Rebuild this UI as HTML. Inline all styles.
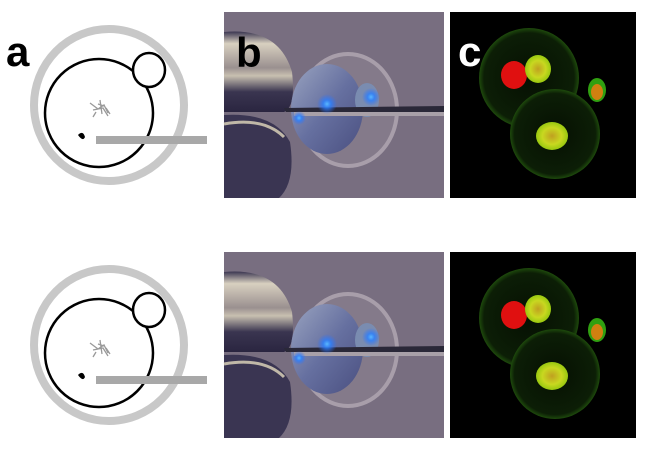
<!DOCTYPE html>
<html><head><meta charset="utf-8"><style>
html,body{margin:0;padding:0;background:#fff;width:650px;height:452px;overflow:hidden}
svg{display:block}
text{font-family:"Liberation Sans",sans-serif;font-weight:bold}
</style></head><body>
<svg width="650" height="452" viewBox="0 0 650 452" xmlns="http://www.w3.org/2000/svg">
<defs>
<radialGradient id="blue" cx="50%" cy="50%" r="50%">
<stop offset="0" stop-color="#5ab8ff"/><stop offset="0.4" stop-color="#2a7fff" stop-opacity="0.8"/><stop offset="1" stop-color="#2a6fff" stop-opacity="0"/></radialGradient>
<linearGradient id="oo" x1="0" y1="0" x2="1" y2="1">
<stop offset="0" stop-color="#9aa4c0"/><stop offset="0.5" stop-color="#6670a0"/><stop offset="1" stop-color="#4a4f80"/></linearGradient>
<linearGradient id="hold" x1="0" y1="0" x2="0" y2="1">
<stop offset="0" stop-color="#3a3550"/><stop offset="0.15" stop-color="#d8d0c0"/><stop offset="0.45" stop-color="#9a9090"/><stop offset="0.55" stop-color="#c8c0b0"/><stop offset="0.75" stop-color="#3a3550"/><stop offset="1" stop-color="#2a2540"/></linearGradient>
<radialGradient id="yel" cx="50%" cy="50%" r="50%"><stop offset="0" stop-color="#c0a020"/><stop offset="0.6" stop-color="#c8d820"/><stop offset="1" stop-color="#98c810"/></radialGradient>
<radialGradient id="cell" cx="50%" cy="50%" r="50%"><stop offset="0" stop-color="#061003"/><stop offset="0.9" stop-color="#0c1e06"/><stop offset="1" stop-color="#1e4a0c"/></radialGradient>
<g id="dia">
<ellipse cx="109" cy="105" rx="75" ry="76" fill="none" stroke="#c8c8c8" stroke-width="8"/>
<circle cx="99" cy="113" r="54" fill="#fff" stroke="#000" stroke-width="2.5"/>
<ellipse cx="149" cy="70" rx="16" ry="17" fill="#fff" stroke="#000" stroke-width="2.5"/>
<g stroke="#999" stroke-width="1.3" fill="none">
<path d="M90 103 l8 6 l6 -4 l4 8 M93 110 l10 -2 l5 8 M100 100 l2 14 M96 112 l-3 5 M106 108 l4 6 M98 104 l6 2"/>
</g>
<path d="M78 135 q5 -5 7 2 q-2 5 -7 -2z" fill="#000"/>
<rect x="96" y="136" width="111" height="8" fill="#a8a8a8"/>
</g>
<g id="mic">
<rect x="0" y="0" width="220" height="186" fill="#786e80"/>
<path d="M0 20 Q55 15 68 60 Q72 95 60 100 L0 100Z" fill="url(#hold)"/>
<path d="M0 103 Q50 100 66 130 Q72 170 55 186 L0 186Z" fill="#3a3552"/>
<path d="M0 112 Q40 105 60 125" stroke="#c0b8a8" stroke-width="3" fill="none"/>
<ellipse cx="124" cy="98" rx="49" ry="56" fill="#847a8a" stroke="#a89eaa" stroke-width="4"/>
<ellipse cx="103" cy="97" rx="36" ry="45" fill="url(#oo)"/>
<ellipse cx="143" cy="88" rx="12" ry="17" fill="#7a8cb0"/>
<path d="M60 96 L220 94 L220 100 L62 100Z" fill="#2a2838"/>
<rect x="70" y="100" width="150" height="4" fill="#a8a0a8"/>
<circle cx="103" cy="92" r="10" fill="url(#blue)"/>
<circle cx="147" cy="85" r="9" fill="url(#blue)"/>
<circle cx="75" cy="106" r="7" fill="url(#blue)"/>
</g>
<g id="con">
<rect x="0" y="0" width="186" height="186" fill="#000"/>
<circle cx="79" cy="66" r="50" fill="url(#cell)"/>
<circle cx="105" cy="122" r="45" fill="url(#cell)"/>
<ellipse cx="64" cy="63" rx="13" ry="14" fill="#e01010"/>
<ellipse cx="88" cy="57" rx="13" ry="14" fill="url(#yel)"/>
<ellipse cx="147" cy="78" rx="9" ry="12" fill="#30a010"/>
<ellipse cx="147" cy="80" rx="6" ry="8" fill="#d08010"/>
<ellipse cx="102" cy="124" rx="16" ry="14" fill="url(#yel)"/>
</g>
</defs>
<use href="#dia"/>
<use href="#dia" y="240"/>
<g transform="translate(224,12)"><use href="#mic"/></g>
<g transform="translate(224,252)"><use href="#mic"/></g>
<g transform="translate(450,12)"><use href="#con"/></g>
<g transform="translate(450,252)"><use href="#con"/></g>
<text x="6" y="66" font-size="42" fill="#000">a</text>
<text x="236" y="67" font-size="42" fill="#000">b</text>
<text x="458" y="66" font-size="42" fill="#fff">c</text>
</svg>
</body></html>
